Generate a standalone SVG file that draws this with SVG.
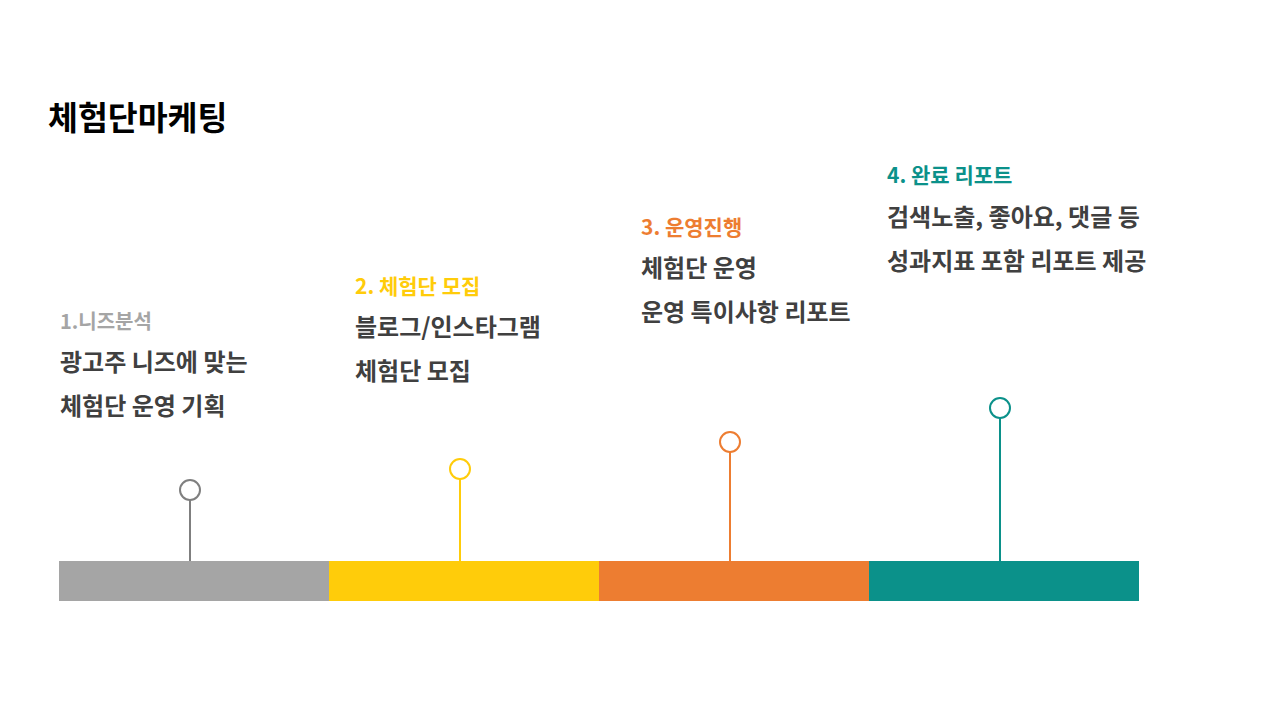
<svg xmlns="http://www.w3.org/2000/svg" width="1280" height="720" viewBox="0 0 1280 720">
<style>
text{font-family:"Noto Sans CJK KR","Noto Sans",sans-serif;font-weight:bold}
.title{font-size:32.5px;fill:#000}
.head{font-size:21px}
.body{font-size:24px;fill:#404040}
.stem{stroke-width:2;fill:none}
.dot{stroke-width:2;fill:#fff}
</style>
<rect width="1280" height="720" fill="#fff"/>
<g id="title"><text class="title" x="48" y="130">체험단마케팅</text></g>
<g id="connectors">
<line class="stem" x1="190" y1="500" x2="190" y2="561" stroke="#7F7F7F"/>
<line class="stem" x1="460" y1="479" x2="460" y2="561" stroke="#FFCC0A"/>
<line class="stem" x1="730" y1="452" x2="730" y2="561" stroke="#ED7D31"/>
<line class="stem" x1="1000" y1="418" x2="1000" y2="561" stroke="#0B918A"/>
</g>
<g id="bar">
<rect x="59" y="561" width="270" height="40" fill="#A5A5A5"/>
<rect x="329" y="561" width="270" height="40" fill="#FFCC0A"/>
<rect x="599" y="561" width="270" height="40" fill="#ED7D31"/>
<rect x="869" y="561" width="270" height="40" fill="#0B918A"/>
</g>
<g id="step1">
<circle class="dot" cx="190" cy="490" r="10" stroke="#7F7F7F"/>
<text class="head" x="60" y="329" fill="#A5A5A5" style="font-size:20px">1.니즈분석</text>
<text class="body" x="60" y="371">광고주 니즈에 맞는</text>
<text class="body" x="60" y="415">체험단 운영 기획</text>
</g>
<g id="step2">
<circle class="dot" cx="460" cy="469" r="10" stroke="#FFCC0A"/>
<text class="head" x="355" y="294" fill="#FFCC0A">2. 체험단 모집</text>
<text class="body" x="355" y="336">블로그/인스타그램</text>
<text class="body" x="355" y="380">체험단 모집</text>
</g>
<g id="step3">
<circle class="dot" cx="730" cy="442" r="10" stroke="#ED7D31"/>
<text class="head" x="641" y="235" fill="#ED7D31">3. 운영진행</text>
<text class="body" x="641" y="277">체험단 운영</text>
<text class="body" x="641" y="321">운영 특이사항 리포트</text>
</g>
<g id="step4">
<circle class="dot" cx="1000" cy="408" r="10" stroke="#0B918A"/>
<text class="head" x="887" y="183" fill="#0B918A">4. 완료 리포트</text>
<text class="body" x="887" y="226">검색노출, 좋아요, 댓글 등</text>
<text class="body" x="887" y="270">성과지표 포함 리포트 제공</text>
</g>
</svg>
